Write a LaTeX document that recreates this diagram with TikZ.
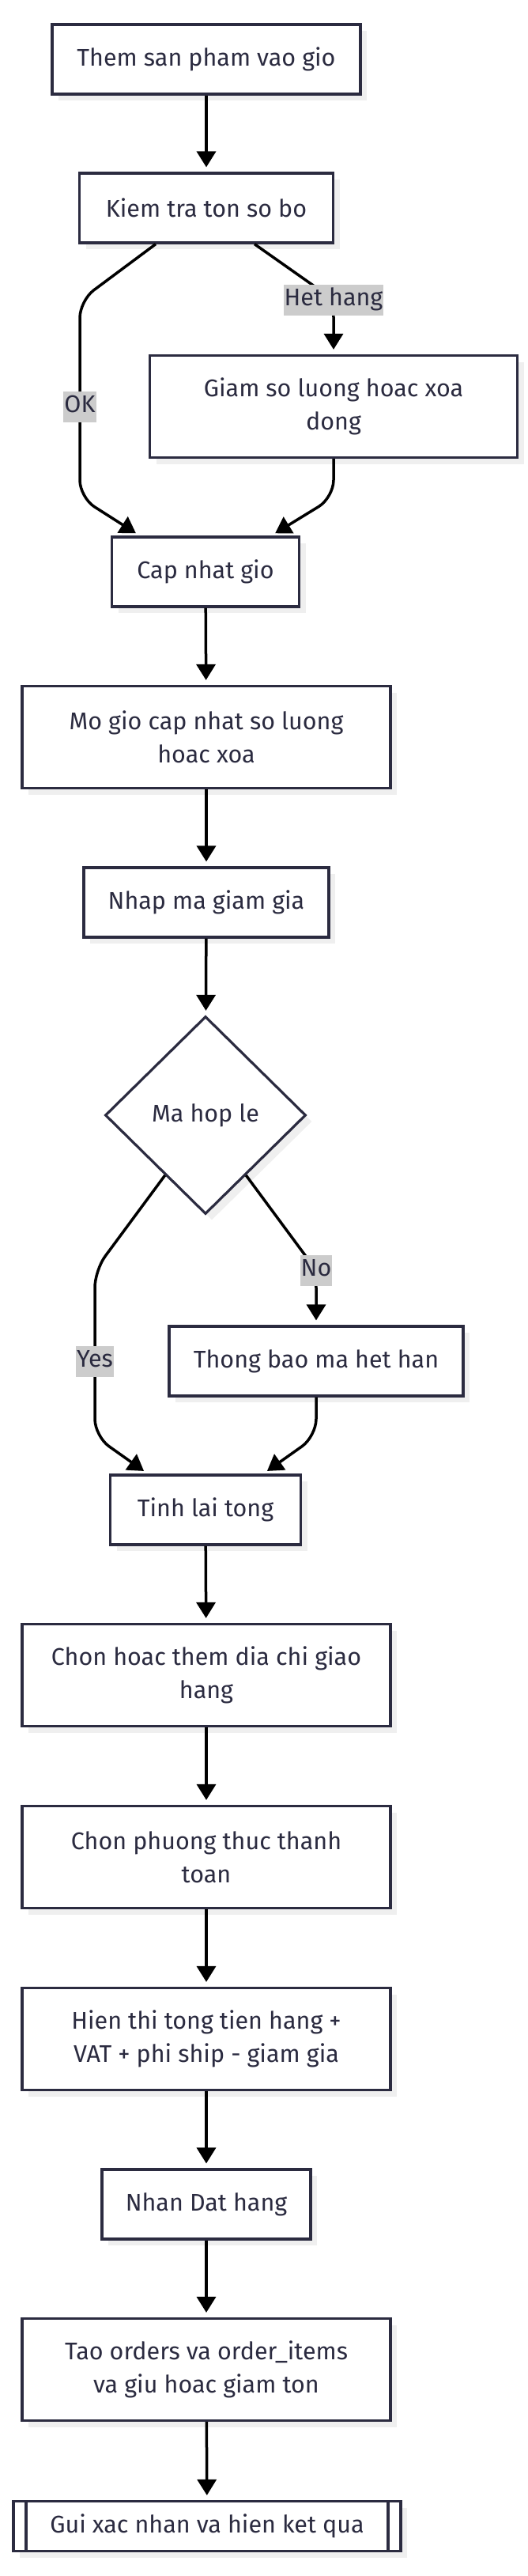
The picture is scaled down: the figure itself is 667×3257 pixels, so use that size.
\documentclass[tikz,border=0pt]{standalone}
\usepackage{fontspec}
\setmainfont{Fira Sans}
\usetikzlibrary{positioning,shapes.geometric,arrows.meta,shadows}

\definecolor{ink}{HTML}{2B2B40}
\definecolor{lblgray}{HTML}{CCCCCC}
\definecolor{shade}{HTML}{EFEFEF}

\tikzset{
  stepbox/.style={draw=ink, line width=3.2pt, fill=white, text=ink, align=center,
    minimum height=88pt, inner sep=0pt, font=\fontsize{30.5}{42}\selectfont,
    drop shadow={shadow xshift=8pt, shadow yshift=-8pt, fill=shade, opacity=1}},
  widebox/.style={stepbox, minimum width=466pt, minimum height=129pt},
  choice/.style={stepbox, shape=diamond, minimum width=254pt, minimum height=250pt},
  subbox/.style={stepbox, minimum width=490pt, minimum height=63pt,
    path picture={
      \draw[ink, line width=3.2pt]
        ([xshift=16pt]path picture bounding box.north west) -- ([xshift=16pt]path picture bounding box.south west)
        ([xshift=-16pt]path picture bounding box.north east) -- ([xshift=-16pt]path picture bounding box.south east);
    }},
  edge/.style={draw=black, line width=3.5pt, -{Triangle[length=20pt,width=24pt]},
    shorten >=6pt, rounded corners=22pt},
  lbl/.style={sharp corners, fill=lblgray, text=ink, font=\fontsize{30.5}{42}\selectfont,
    inner xsep=1pt, inner ysep=4pt, text height=23pt, text depth=8pt}
}

\begin{document}
\begin{tikzpicture}[x=1pt, y=-1pt]
  \useasboundingbox (0,0) rectangle (667,3257);

  % cart and stock
  \node[stepbox, minimum width=390pt] (add) at (261,75) {Them san pham vao gio};
  \node[stepbox, minimum width=321pt] (check) at (261,263) {Kiem tra ton so bo};
  \node[stepbox, minimum width=465pt, minimum height=129pt] (reduce) at (422,514) {Giam so luong hoac xoa\\dong};
  \node[stepbox, minimum width=237pt] (update) at (260,723) {Cap nhat gio};
  \node[widebox] (editcart) at (261,932) {Mo gio cap nhat so luong\\hoac xoa};

  % coupon
  \node[stepbox, minimum width=310pt] (coupon) at (261,1141) {Nhap ma giam gia};
  \node[choice] (valid) at (260,1410) {Ma hop le};
  \node[stepbox, minimum width=372pt] (expired) at (400,1721) {Thong bao ma het han};
  \node[stepbox, minimum width=241pt] (recalc) at (260,1909) {Tinh lai tong};

  % checkout
  \node[widebox] (address) at (261,2118) {Chon hoac them dia chi giao\\hang};
  \node[widebox] (payment) at (261,2348) {Chon phuong thuc thanh\\toan};
  \node[widebox] (summary) at (261,2578) {Hien thi tong tien hang +\\VAT + phi ship - giam gia};
  \node[stepbox, minimum width=264pt] (place) at (261,2787) {Nhan Dat hang};
  \node[widebox] (create) at (261,2996) {Tao orders va order\_items\\va giu hoac giam ton};
  \node[subbox] (confirm) at (262,3194) {Gui xac nhan va hien ket qua};

  \draw[edge] (add) -- (check);
  \draw[edge] ([xshift=-64pt]check.south) -- (101,380) -- (101,514) node[lbl] {OK}
    -- (101,629) -- ([xshift=-83pt]update.north);
  \draw[edge] ([xshift=61pt]check.south) -- (422,379) node[lbl] {Het hang} -- (reduce.north);
  \draw[edge] (reduce.south) -- (422,629) -- ([xshift=83pt]update.north);
  \draw[edge] (update) -- (editcart);
  \draw[edge] (editcart) -- (coupon);
  \draw[edge] (coupon) -- (valid);
  \draw[edge] (valid.-124) -- (120,1606) -- (120,1721) node[lbl] {Yes}
    -- (120,1816) -- ([xshift=-73pt]recalc.north);
  \draw[edge] (valid.-56) -- (400,1606) node[lbl] {No} -- (expired.north);
  \draw[edge] (expired.south) -- (400,1816) -- ([xshift=73pt]recalc.north);
  \draw[edge] (recalc) -- (address);
  \draw[edge] (address) -- (payment);
  \draw[edge] (payment) -- (summary);
  \draw[edge] (summary) -- (place);
  \draw[edge] (place) -- (create);
  \draw[edge] (create) -- (confirm);
\end{tikzpicture}
\end{document}
